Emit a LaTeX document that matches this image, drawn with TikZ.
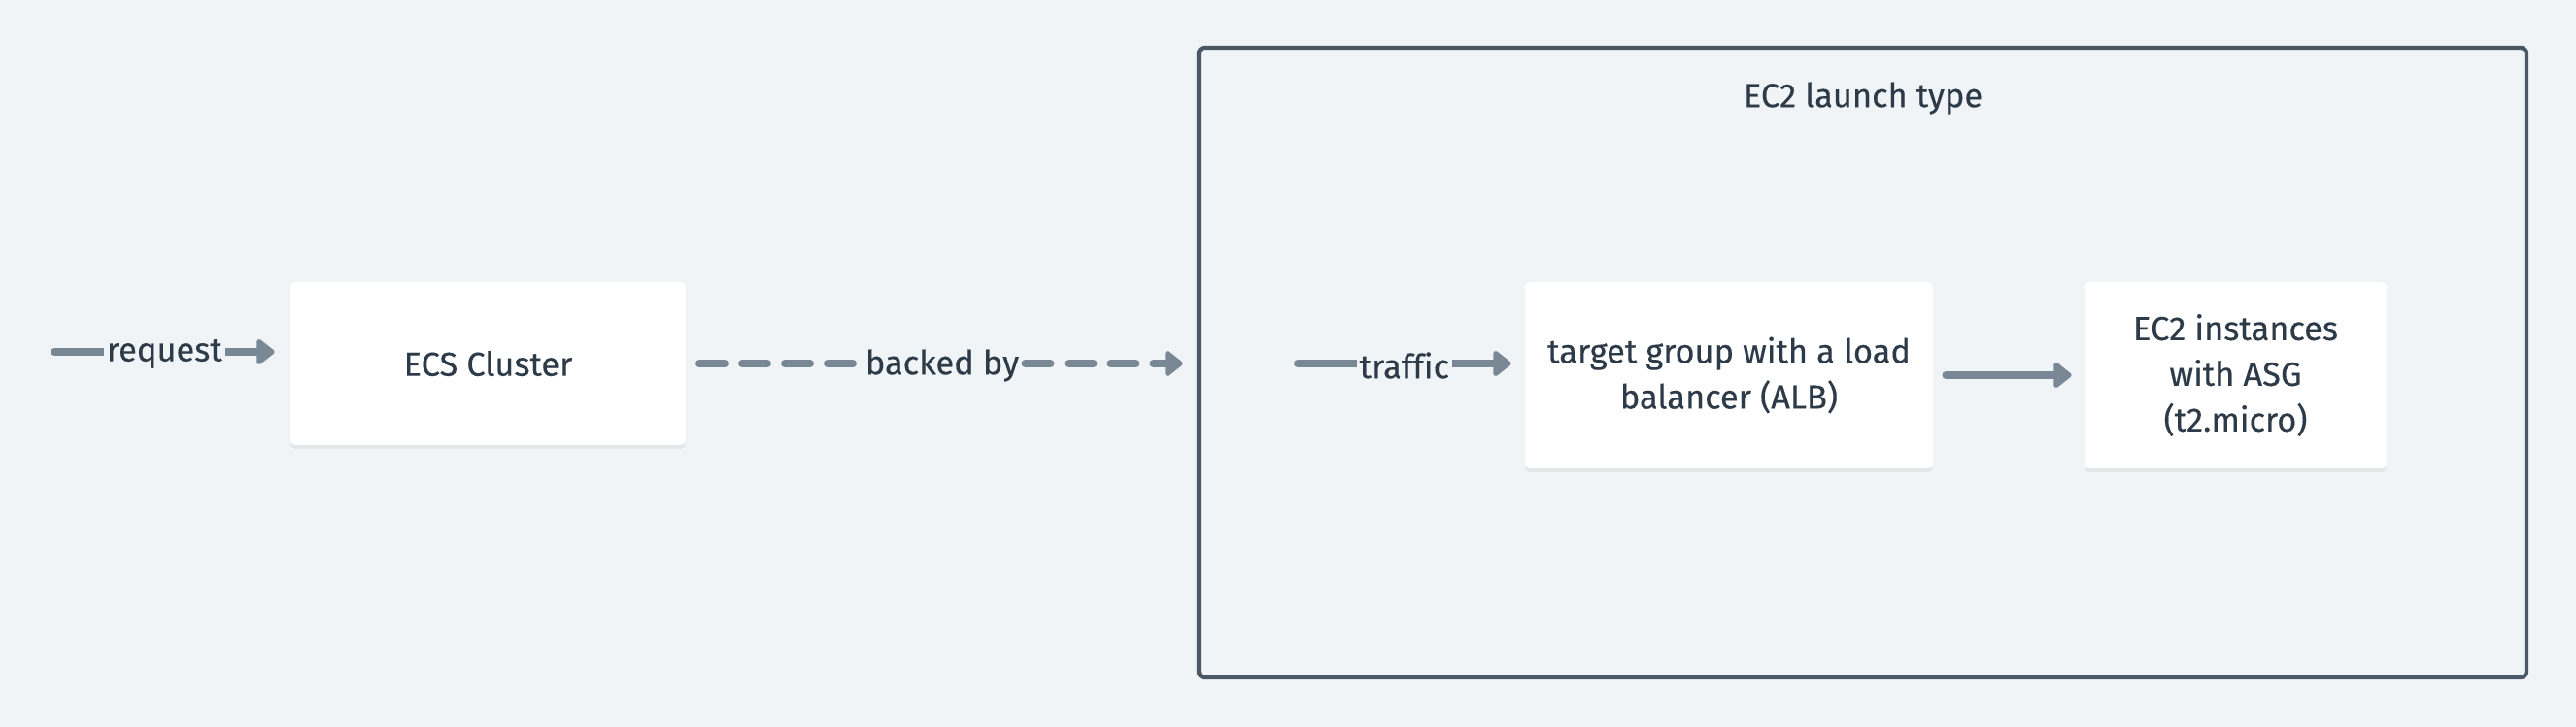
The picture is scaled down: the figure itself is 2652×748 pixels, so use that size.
\documentclass[tikz,border=0pt]{standalone}
\usepackage{fontspec}
\setmainfont{Fira Sans}[Ligatures=NoCommon, UprightFeatures={FakeBold=0.3}]
\usetikzlibrary{arrows.meta,calc,shadows}
\definecolor{bgc}{HTML}{F0F4F7}
\definecolor{arrc}{HTML}{7A8896}
\definecolor{bordc}{HTML}{4A5866}
\definecolor{txtc}{HTML}{2D3A48}
\tikzset{
  box/.style={draw=none, fill=white, rounded corners=2.5pt, minimum height=84pt,
    align=center, text=txtc, font=\fontsize{17.2}{23.5}\selectfont,
    drop shadow={shadow xshift=0pt, shadow yshift=-2pt, opacity=0.05, fill=black}},
  conn/.style={draw=arrc, line width=4pt, line cap=round,
    -{Triangle[length=10pt, width=15pt, round]}},
  plain/.style={draw=arrc, line width=4pt, line cap=round},
  lab/.style={fill=bgc, text=txtc, inner xsep=1.5pt, inner ysep=2pt,
    font=\fontsize{17.2}{20}\selectfont},
  frame/.style={draw=bordc, line width=2.2pt, rounded corners=3pt, fill=none}
}
\begin{document}
\begin{tikzpicture}[x=0.5pt,y=-0.5pt]
\useasboundingbox[fill=bgc] (0,0) rectangle (2652,748);
% outer group frame
\node[frame, minimum width=683.5pt, minimum height=324pt, inner sep=0pt] (grp) at (1917.5,373) {};
\node[text=txtc, font=\fontsize{17.2}{20}\selectfont] (title) at (1918,101) {EC2 launch type};
% boxes
\node[box, minimum width=203.5pt] (ecs) at (502.5,374) {ECS Cluster};
\node[box, minimum width=210pt, minimum height=96pt] (tg) at (1780,386) {target group with a load\\balancer (ALB)};
\node[box, minimum width=155.5pt, minimum height=96pt] (ec2) at (2301.5,386) {EC2 instances\\with ASG\\(t2.micro)};
% connector free ends
\coordinate (reqstart) at (56,362);
\coordinate (bkstart) at (720,374);
\coordinate (trstart) at (1336,374);
% connectors
\draw[conn] (reqstart) -- node[lab, yshift=-1pt] {request} ($(ecs.west|-reqstart)+(-16,0)$);
\node[lab, fill=none, inner xsep=3pt, yshift=-1pt] (bklab) at (970,374) {backed by};
\draw[plain, dash pattern=on 13pt off 9pt] (bkstart) -- (bklab.west|-bkstart);
\draw[conn, dash pattern=on 13pt off 9pt] (bklab.east|-bkstart) -- ($(grp.west|-bkstart)+(-14,0)$);
\draw[conn] (trstart) -- node[lab, yshift=-1pt] {traffic} ($(tg.west|-trstart)+(-14,0)$);
\draw[conn, shorten <=6.5pt, shorten >=6.5pt] (tg.east) -- (ec2.west);
\end{tikzpicture}
\end{document}
